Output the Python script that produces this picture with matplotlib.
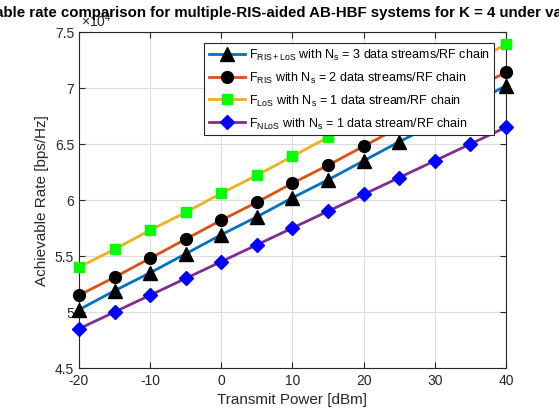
import numpy as np
import matplotlib
matplotlib.use("Agg")
import matplotlib.pyplot as plt
from matplotlib.ticker import FuncFormatter

# ── Data (rates in bps/Hz) ─────────────────────────────────────────────────
power_dbm = [-20, -15, -10, -5, 0, 5, 10, 15, 20, 25, 30, 35, 40]
rate_ris_los = [5.02, 5.19, 5.35, 5.52, 5.69, 5.85, 6.02, 6.18, 6.35, 6.52, 6.68, 6.85, 7.02]
rate_ris = [5.15, 5.31, 5.48, 5.65, 5.82, 5.98, 6.15, 6.31, 6.48, 6.65, 6.81, 6.98, 7.14]
rate_los = [5.40, 5.56, 5.73, 5.89, 6.06, 6.22, 6.39, 6.56, 6.72, 6.89, 7.06, 7.22, 7.39]
rate_nlos = [4.85, 5.00, 5.15, 5.30, 5.45, 5.60, 5.75, 5.90, 6.05, 6.20, 6.35, 6.50, 6.65]
scale = 1e4

labels = [
    r"F$_{\mathregular{RIS+LoS}}$ with N$_{\mathregular{s}}$ = 3 data streams/RF chain",
    r"F$_{\mathregular{RIS}}$ with N$_{\mathregular{s}}$ = 2 data streams/RF chain",
    r"F$_{\mathregular{LoS}}$ with N$_{\mathregular{s}}$ = 1 data stream/RF chain",
    r"F$_{\mathregular{NLoS}}$ with N$_{\mathregular{s}}$ = 1 data stream/RF chain",
]

plt.rcParams.update({
    "font.family": ["Liberation Sans", "DejaVu Sans"],
    "mathtext.fontset": "custom",
    "mathtext.rm": "Liberation Sans",
    "mathtext.it": "Liberation Sans",
    "axes.unicode_minus": False,
    "axes.edgecolor": "#262626",
    "xtick.color": "#262626",
    "ytick.color": "#262626",
})

fig = plt.figure(figsize=(5.59, 4.14), dpi=100)
ax = fig.add_axes([0.1413, 0.1087, 0.7639, 0.8116])

series = [
    (rate_ris_los, "#0072BD", "^", "black", "black", 9.5),
    (rate_ris, "#D95319", "o", "black", "black", 8.5),
    (rate_los, "#EDB120", "s", "#00FF00", "#00FF00", 6.5),
    (rate_nlos, "#7E2F8E", "D", "#0000FF", "#0000FF", 7),
]
for (vals, lc, mk, mfc, mec, ms), lab in zip(series, labels):
    ax.plot(power_dbm, np.array(vals) * scale, color=lc, lw=2, marker=mk,
            mfc=mfc, mec=mec, ms=ms, label=lab, clip_on=False, zorder=3)

ax.set_xlim(-20, 40)
ax.set_ylim(4.5e4, 7.5e4)
ax.set_xticks(range(-20, 41, 10))
ax.set_yticks(np.arange(4.5e4, 7.51e4, 0.5e4))
ax.yaxis.set_major_formatter(FuncFormatter(lambda v, p: f"{v / scale:g}"))
ax.text(0.005, 1.008, r"$\times\mathregular{10^4}$", transform=ax.transAxes,
        fontsize=10, color="#262626", ha="left", va="bottom")

ax.tick_params(direction="in", top=True, right=True, labelsize=10, length=4)
ax.grid(True, color="#dcdcdc", lw=0.8)
ax.set_axisbelow(True)
for s in ax.spines.values():
    s.set_linewidth(0.8)

ax.set_xlabel("Transmit Power [dBm]", fontsize=11, color="#262626")
ax.set_ylabel("Achievable Rate [bps/Hz]", fontsize=11, color="#262626")
fig.text(0.508, 1 - 13 / 414,
         "Achievable rate comparison for multiple-RIS-aided AB-HBF systems "
         "for K = 4 under various Ns", fontsize=10.8, fontweight="bold",
         ha="center", va="center")

leg = ax.legend(loc="upper right", bbox_to_anchor=(0.972, 0.968), fontsize=9,
                fancybox=False, edgecolor="#262626", framealpha=1,
                handlelength=2.9, borderpad=0.35, labelspacing=0.62,
                handletextpad=0.3, borderaxespad=0)
leg.get_frame().set_linewidth(0.8)

fig.savefig("out.png", dpi=100)
